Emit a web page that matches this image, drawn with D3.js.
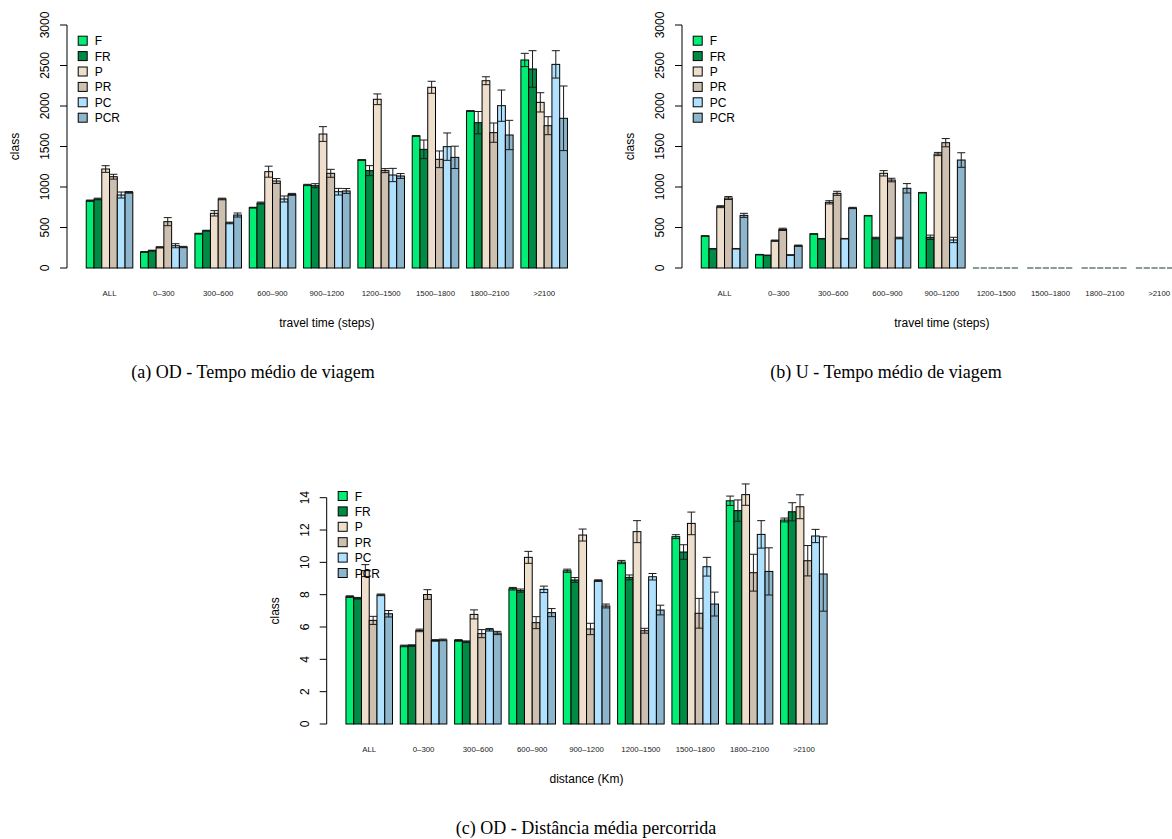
<!DOCTYPE html>
<html>
<head>
<meta charset="utf-8">
<script src="https://cdn.jsdelivr.net/npm/d3@7"></script>
<style>
  body { margin: 0; background: #fff; }
  svg { display: block; }
  .sans { font-family: "Liberation Sans", Arial, sans-serif; }
  .serif { font-family: "Liberation Serif", "Times New Roman", serif; }
</style>
</head>
<body>
<svg id="chart" width="1172" height="839"></svg>
<script>
// categories and series
var groups = ["ALL", "0\u2013300", "300\u2013600", "600\u2013900", "900\u20131200",
              "1200\u20131500", "1500\u20131800", "1800\u20132100", ">2100"];
var series = ["F", "FR", "P", "PR", "PC", "PCR"];
var colors = ["#00EE76", "#008B45", "#EEDFCC", "#CDC0B0", "#B0E2FF", "#8DB6CD"];

// (a) OD travel time: one row per series (F, FR, P, PR, PC, PCR)
var odTimeMean = [
  [831, 198, 424, 745, 1025, 1333, 1630, 1938, 2568],
  [852, 214, 461, 802, 1016, 1202, 1465, 1794, 2457],
  [1222, 255, 675, 1189, 1654, 2083, 2231, 2312, 2045],
  [1127, 572, 852, 1074, 1169, 1202, 1342, 1671, 1757],
  [901, 275, 556, 852, 942, 1148, 1498, 2004, 2514],
  [934, 259, 654, 909, 951, 1136, 1366, 1642, 1848]
];
var odTimeErr = [
  [8, 5, 5, 5, 8, 5, 5, 5, 82],
  [10, 6, 5, 12, 25, 62, 115, 138, 226],
  [41, 8, 33, 68, 91, 66, 74, 49, 119],
  [30, 50, 10, 30, 49, 25, 103, 119, 111],
  [37, 25, 10, 37, 41, 82, 169, 193, 169],
  [10, 8, 25, 12, 30, 30, 138, 181, 399]
];

// (b) U travel time
var uTimeMean = [
  [395, 165, 420, 646, 930, 0, 0, 0, 0],
  [238, 156, 362, 370, 379, 0, 0, 0, 0],
  [757, 337, 811, 1169, 1407, 0, 0, 0, 0],
  [864, 477, 922, 1086, 1547, 0, 0, 0, 0],
  [238, 160, 362, 370, 346, 0, 0, 0, 0],
  [650, 275, 741, 984, 1333, 0, 0, 0, 0]
];
var uTimeErr = [
  [3, 3, 3, 3, 3, 0, 0, 0, 0],
  [3, 3, 3, 10, 27, 0, 0, 0, 0],
  [12, 8, 20, 33, 20, 0, 0, 0, 0],
  [18, 14, 25, 22, 51, 0, 0, 0, 0],
  [3, 3, 3, 10, 33, 0, 0, 0, 0],
  [25, 8, 8, 58, 90, 0, 0, 0, 0]
];

// (c) OD distance
var odDistMean = [
  [7.88, 4.83, 5.17, 8.37, 9.48, 10.02, 11.59, 13.81, 12.62],
  [7.78, 4.85, 5.09, 8.25, 8.91, 9.07, 10.64, 13.2, 13.13],
  [9.49, 5.79, 6.78, 10.31, 11.69, 11.9, 12.41, 14.19, 13.44],
  [6.41, 8.01, 5.59, 6.27, 5.88, 5.77, 6.85, 9.36, 10.1],
  [7.99, 5.17, 5.83, 8.33, 8.87, 9.11, 9.73, 11.73, 11.63],
  [6.82, 5.2, 5.63, 6.89, 7.3, 7.05, 7.42, 9.44, 9.28]
];
var odDistErr = [
  [0.05, 0.05, 0.05, 0.08, 0.1, 0.1, 0.12, 0.29, 0.12],
  [0.05, 0.05, 0.05, 0.1, 0.15, 0.15, 0.45, 0.66, 0.56],
  [0.37, 0.08, 0.28, 0.37, 0.37, 0.68, 0.7, 0.66, 0.74],
  [0.25, 0.3, 0.25, 0.37, 0.35, 0.15, 0.92, 1.14, 0.94],
  [0.05, 0.05, 0.08, 0.2, 0.05, 0.2, 0.58, 0.85, 0.41],
  [0.2, 0.05, 0.1, 0.25, 0.12, 0.3, 0.74, 1.46, 2.3]
];

var timeTicks = [0, 500, 1000, 1500, 2000, 2500, 3000];
var distTicks = [0, 2, 4, 6, 8, 10, 12, 14];

var svg = d3.select("#chart");

function panel(opt) {
    var g = svg.append("g").attr("class", "sans");

    // R barplot units: groups of 6 bars + 1 space, padded 4% each side
    var u = d3.scaleLinear().domain([-1.48, 65.48]).range([opt.left, opt.left + 519.7]);
    var x0 = d3.scaleBand().domain(groups).range([u(1), u(63)]).paddingInner(1 / 7);
    var x1 = d3.scaleBand().domain(series).range([0, x0.bandwidth()]);
    var y = d3.scaleLinear().domain(opt.domain).range([opt.bottom, opt.top]);

    var rows = [];
    series.forEach(function(s, i) {
        groups.forEach(function(grp, j) {
            rows.push({ s: s, i: i, grp: grp, m: opt.mean[i][j], e: opt.err[i][j] });
        });
    });

    g.selectAll("rect.bar")
        .data(rows.filter(function(d) { return d.m > 0; }))
        .enter().append("rect")
        .attr("class", "bar")
        .attr("x", function(d) { return x0(d.grp) + x1(d.s); })
        .attr("y", function(d) { return y(d.m); })
        .attr("width", x1.bandwidth())
        .attr("height", function(d) { return y(0) - y(d.m); })
        .attr("fill", function(d) { return colors[d.i]; })
        .attr("stroke", "#000")
        .attr("stroke-width", 1);

    // zero-height bars show as a flat border line
    g.selectAll("line.zero")
        .data(rows.filter(function(d) { return d.m <= 0; }))
        .enter().append("line")
        .attr("x1", function(d) { return x0(d.grp) + x1(d.s); })
        .attr("x2", function(d) { return x0(d.grp) + x1(d.s) + x1.bandwidth() - 1.5; })
        .attr("y1", y(0)).attr("y2", y(0))
        .attr("stroke", "#123d24")
        .attr("stroke-width", 1);

    // error bars
    var eb = g.selectAll("g.err")
        .data(rows.filter(function(d) { return d.m > 0; }))
        .enter().append("g")
        .attr("transform", function(d) {
            return "translate(" + (x0(d.grp) + x1(d.s) + x1.bandwidth() / 2) + ",0)";
        })
        .attr("stroke", "#1a1a1a")
        .attr("stroke-width", 1);
    eb.append("line")
        .attr("y1", function(d) { return y(d.m - d.e); })
        .attr("y2", function(d) { return y(d.m + d.e); });
    eb.append("line").attr("x1", -4).attr("x2", 4)
        .attr("y1", function(d) { return y(d.m + d.e); })
        .attr("y2", function(d) { return y(d.m + d.e); });
    eb.append("line").attr("x1", -4).attr("x2", 4)
        .attr("y1", function(d) { return y(d.m - d.e); })
        .attr("y2", function(d) { return y(d.m - d.e); });

    // y axis, R style
    var yAxis = g.append("g").attr("transform", "translate(" + opt.left + ",0)");
    yAxis.append("line")
        .attr("y1", y(opt.ticks[0])).attr("y2", y(opt.ticks[opt.ticks.length - 1]))
        .attr("stroke", "#000");
    yAxis.selectAll("line.tick").data(opt.ticks).enter().append("line")
        .attr("x1", -7).attr("x2", 0)
        .attr("y1", function(d) { return y(d); }).attr("y2", function(d) { return y(d); })
        .attr("stroke", "#000");
    yAxis.selectAll("text").data(opt.ticks).enter().append("text")
        .attr("transform", function(d) { return "translate(-18," + y(d) + ") rotate(-90)"; })
        .attr("text-anchor", "middle")
        .attr("font-size", 12)
        .text(function(d) { return d; });

    g.append("text")
        .attr("transform", "translate(" + (opt.left - 48) + "," + ((opt.bottom + opt.top) / 2) + ") rotate(-90)")
        .attr("text-anchor", "middle")
        .attr("font-size", 12)
        .text("class");

    // group labels
    g.selectAll("text.grp").data(groups).enter().append("text")
        .attr("x", function(d) { return x0(d) + x0.bandwidth() / 2; })
        .attr("y", opt.bottom + 28)
        .attr("text-anchor", "middle")
        .attr("font-size", 7.8)
        .attr("fill", "#222")
        .text(function(d) { return d; });

    g.append("text")
        .attr("x", (u.range()[0] + u.range()[1]) / 2)
        .attr("y", opt.bottom + 59)
        .attr("text-anchor", "middle")
        .attr("font-size", 12)
        .text(opt.xTitle);

    // legend
    var lg = g.selectAll("g.leg").data(series).enter().append("g")
        .attr("transform", function(d, i) {
            return "translate(" + opt.legX + "," + (opt.legY + i * 15.4) + ")";
        });
    lg.append("rect")
        .attr("x", -4.5).attr("y", -4.5).attr("width", 9).attr("height", 9)
        .attr("fill", function(d, i) { return colors[i]; })
        .attr("stroke", "#000");
    lg.append("text")
        .attr("x", 12).attr("y", 4.5)
        .attr("font-size", 12)
        .text(function(d) { return d; });

    svg.append("text")
        .attr("class", "serif")
        .attr("x", opt.capX).attr("y", opt.capY)
        .attr("text-anchor", "middle")
        .attr("font-size", 18)
        .text(opt.caption);
}

panel({ left: 67, top: 25, bottom: 268, domain: [0, 3000], ticks: timeTicks,
        mean: odTimeMean, err: odTimeErr, xTitle: "travel time (steps)",
        legX: 82.7, legY: 40.7, capX: 253, capY: 378,
        caption: "(a) OD - Tempo m\u00e9dio de viagem" });

panel({ left: 682, top: 25, bottom: 268, domain: [0, 3000], ticks: timeTicks,
        mean: uTimeMean, err: uTimeErr, xTitle: "travel time (steps)",
        legX: 697.7, legY: 40.7, capX: 886, capY: 378,
        caption: "(b) U - Tempo m\u00e9dio de viagem" });

panel({ left: 326.7, top: 497.7, bottom: 724, domain: [0, 14], ticks: distTicks,
        mean: odDistMean, err: odDistErr, xTitle: "distance (Km)",
        legX: 342.7, legY: 496, capX: 586, capY: 834,
        caption: "(c) OD - Dist\u00e2ncia m\u00e9dia percorrida" });
</script>
</body>
</html>
